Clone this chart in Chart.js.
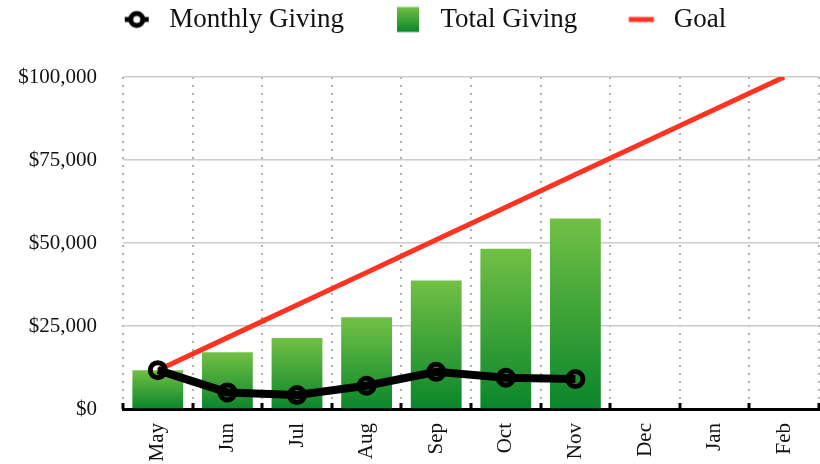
<!DOCTYPE html>
<html>
<head>
<meta charset="utf-8">
<script src="https://cdn.jsdelivr.net/npm/chart.js@4"></script>
<style>
    html, body { margin: 0; padding: 0; background: #fff; }
    #wrap { width: 820px; height: 464px; }
</style>
</head>
<body>
<div id="wrap"><canvas id="givingChart"></canvas></div>
<script>
const months = ['May', 'Jun', 'Jul', 'Aug', 'Sep', 'Oct', 'Nov', 'Dec', 'Jan', 'Feb'];
const monthlyGiving = [11700, 5000, 4200, 7000, 11200, 9400, 9000];
const totalGiving = [11700, 17100, 21400, 27600, 38700, 48300, 57400];
const goal = [11700, 21500, 31300, 41100, 51000, 60800, 70600, 80400, 90200, 100000];
const yTicks = [0, 25000, 50000, 75000, 100000];

const FONT = "'Liberation Serif', 'Times New Roman', serif";
const ICON_BOX = 38;   // legend marker box
const ICON_GAP = 41;   // blank space before each legend marker

function barGradient(ctx) {
    const chart = ctx.chart;
    const y = chart.scales && chart.scales.y;
    if (!y || ctx.raw == null) return '#2a9a35';
    const top = y.getPixelForValue(ctx.raw);
    const base = y.getPixelForValue(0);
    const g = chart.ctx.createLinearGradient(0, top, 0, base);
    g.addColorStop(0, '#72c045');
    g.addColorStop(1, '#0a862b');
    return g;
}

// legend markers; the visible mark sits at the right of a wider blank canvas
function legendIcon(kind) {
    const c = document.createElement('canvas');
    c.width = ICON_BOX + ICON_GAP;
    c.height = 28;
    const k = c.getContext('2d');
    const cx = ICON_GAP + ICON_BOX / 2;
    const cy = 14;
    if (kind === 'line-point') {
        k.strokeStyle = '#000';
        k.lineWidth = 5;
        k.beginPath(); k.moveTo(cx - 12, cy); k.lineTo(cx + 12, cy); k.stroke();
        k.fillStyle = '#fff';
        k.beginPath(); k.arc(cx, cy, 6, 0, Math.PI * 2); k.fill();
        k.lineWidth = 5;
        k.stroke();
    } else if (kind === 'bar') {
        const g = k.createLinearGradient(0, cy - 12.5, 0, cy + 12.5);
        g.addColorStop(0, '#72c045');
        g.addColorStop(1, '#0a862b');
        k.fillStyle = g;
        k.fillRect(cx - 11, cy - 12.5, 22, 25);
    } else {
        k.fillStyle = '#ff3322';
        k.fillRect(cx - 12.5, cy - 2.5, 25, 5);
    }
    return c;
}

// short black ticks on the x axis, pointing up into the plot
const axisTicks = {
    id: 'axisTicks',
    afterDatasetsDraw(chart) {
        const x = chart.scales.x;
        const ctx = chart.ctx;
        const bottom = chart.chartArea.bottom;
        ctx.save();
        ctx.strokeStyle = '#000';
        ctx.lineWidth = 3;
        for (let i = 0; i <= months.length; i += 1) {
            const px = Math.round(x.getPixelForValue(i - 0.5));
            ctx.beginPath();
            ctx.moveTo(px, bottom);
            ctx.lineTo(px, bottom - 6);
            ctx.stroke();
        }
        ctx.restore();
    }
};

// extra room under the legend, and nudge the legend a bit left
const legendSpace = {
    id: 'legendSpace',
    beforeLayout(chart) {
        const legend = chart.legend;
        if (!legend || legend._spaced) return;
        const fit = legend.fit;
        legend.fit = function () {
            fit.call(this);
            this.height += 34;
        };
        legend._spaced = true;
    },
    afterLayout(chart) {
        if (!chart.legend) return;
        chart.legend.left -= 12;
        chart.legend.right -= 12;
    }
};

new Chart(document.getElementById('givingChart'), {
    data: {
        labels: months,
        datasets: [
            {
                type: 'line',
                label: 'Monthly Giving',
                data: monthlyGiving,
                borderColor: '#000',
                borderWidth: 8,
                pointRadius: 7.5,
                pointBorderWidth: 5,
                pointBorderColor: '#000',
                pointBackgroundColor: 'rgba(0,0,0,0)',
                tension: 0,
                order: 0
            },
            {
                type: 'bar',
                label: 'Total Giving',
                data: totalGiving,
                backgroundColor: barGradient,
                categoryPercentage: 1,
                barPercentage: 0.73,
                order: 2
            },
            {
                type: 'line',
                label: 'Goal',
                data: goal,
                borderColor: '#ff3322',
                borderWidth: 5,
                pointRadius: 0,
                tension: 0,
                order: 1
            }
        ]
    },
    options: {
        responsive: true,
        maintainAspectRatio: false,
        animation: false,
        layout: { autoPadding: false, padding: { left: 8, right: 1, top: 2, bottom: 0 } },
        plugins: {
            tooltip: { enabled: false },
            legend: {
                position: 'top',
                labels: {
                    color: '#111',
                    font: { family: FONT, size: 27 },
                    usePointStyle: true,
                    pointStyleWidth: ICON_BOX + ICON_GAP,
                    padding: 4,
                    generateLabels() {
                        const base = { fontColor: '#111', lineWidth: 0, strokeStyle: 'transparent', fillStyle: 'transparent' };
                        return [
                            Object.assign({ text: 'Monthly Giving', pointStyle: legendIcon('line-point'), datasetIndex: 0 }, base),
                            Object.assign({ text: 'Total Giving', pointStyle: legendIcon('bar'), datasetIndex: 1 }, base),
                            Object.assign({ text: 'Goal', pointStyle: legendIcon('line'), datasetIndex: 2 }, base)
                        ];
                    }
                }
            }
        },
        scales: {
            x: {
                offset: true,
                grid: {
                    offset: true,
                    color: '#b0b0b0',
                    lineWidth: 2,
                    drawTicks: false
                },
                border: { display: true, color: '#000', width: 3, dash: [2, 6] },
                ticks: {
                    color: '#111',
                    font: { family: FONT, size: 21 },
                    minRotation: 90,
                    maxRotation: 90,
                    padding: 14
                },
                afterFit(scale) {
                    scale.height = 55;
                    scale.paddingLeft = 0;
                    scale.paddingRight = 0;
                }
            },
            y: {
                min: 0,
                max: 100000,
                afterBuildTicks(scale) {
                    scale.ticks = yTicks.map((v) => ({ value: v }));
                },
                afterFit(scale) {
                    scale.width = 115;
                },
                grid: { color: '#cccccc', lineWidth: 1.5, drawTicks: false },
                border: { display: false },
                ticks: {
                    color: '#111',
                    font: { family: FONT, size: 21 },
                    padding: 26,
                    callback: (v) => '$' + Number(v).toLocaleString('en-US')
                }
            }
        }
    },
    plugins: [axisTicks, legendSpace]
});
</script>
</body>
</html>
